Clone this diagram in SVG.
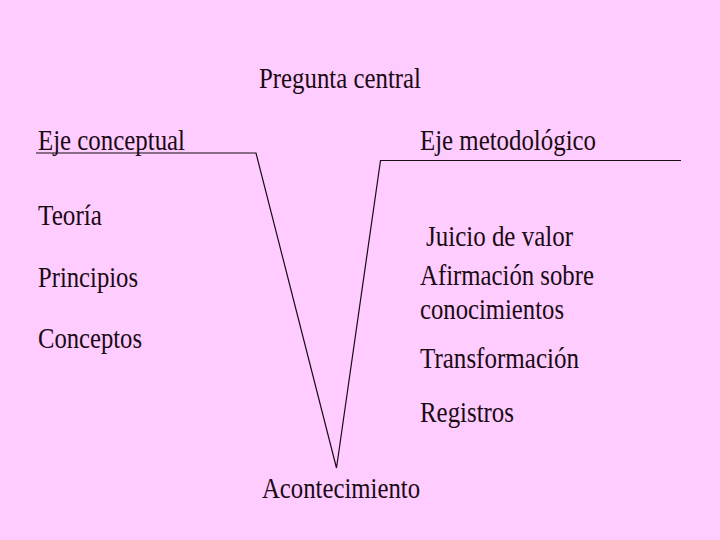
<svg xmlns="http://www.w3.org/2000/svg" width="720" height="540" viewBox="0 0 720 540">
<style>
text{font-family:"Liberation Serif","Times New Roman",serif;font-size:29px;fill:#1a0a14}
.ln{fill:none;stroke:#1a0a14;stroke-width:1.2}
</style>
<rect width="720" height="540" fill="#ffccff"/>
<g id="connectors">
<polyline class="ln" points="36,153 256,153 336.5,468 380.5,160.5 681,160.5"/>
</g>
<g id="pregunta"><text x="259" y="88" textLength="162" lengthAdjust="spacingAndGlyphs">Pregunta central</text></g>
<g id="eje-conceptual"><text x="38" y="150" textLength="147" lengthAdjust="spacingAndGlyphs">Eje conceptual</text></g>
<g id="eje-metodologico"><text x="420" y="150" textLength="176" lengthAdjust="spacingAndGlyphs">Eje metodológico</text></g>
<g id="teoria"><text x="38" y="225" textLength="64" lengthAdjust="spacingAndGlyphs">Teoría</text></g>
<g id="principios"><text x="38" y="287" textLength="100" lengthAdjust="spacingAndGlyphs">Principios</text></g>
<g id="conceptos"><text x="38" y="348" textLength="104" lengthAdjust="spacingAndGlyphs">Conceptos</text></g>
<g id="juicio"><text x="426" y="246" textLength="147" lengthAdjust="spacingAndGlyphs">Juicio de valor</text></g>
<g id="afirmacion"><text x="420" y="285" textLength="174" lengthAdjust="spacingAndGlyphs">Afirmación sobre</text><text x="420" y="319" textLength="144" lengthAdjust="spacingAndGlyphs">conocimientos</text></g>
<g id="transformacion"><text x="420" y="368" textLength="159" lengthAdjust="spacingAndGlyphs">Transformación</text></g>
<g id="registros"><text x="420" y="422" textLength="94" lengthAdjust="spacingAndGlyphs">Registros</text></g>
<g id="acontecimiento"><text x="262" y="498" textLength="158" lengthAdjust="spacingAndGlyphs">Acontecimiento</text></g>
</svg>
